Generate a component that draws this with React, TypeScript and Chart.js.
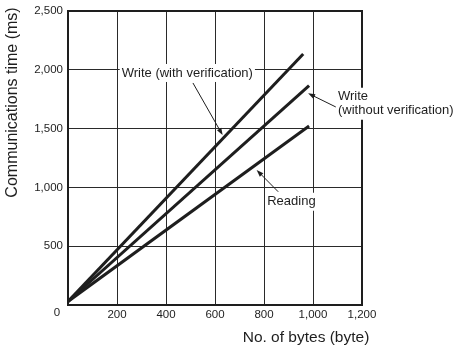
import React, { useEffect, useRef } from "react";
import { Chart, registerables } from "chart.js";

Chart.register(...registerables);

// ---- data ----
const seriesNames = ["Write (with verification)", "Write (without verification)", "Reading"];
const bytesWithVerify = [0, 960];
const timeWithVerify = [30, 2135];
const bytesWithoutVerify = [0, 984];
const timeWithoutVerify = [30, 1865];
const bytesReading = [0, 984];
const timeReading = [30, 1522];

const xTickValues = [0, 200, 400, 600, 800, 1000, 1200];
const yTickValues = [0, 500, 1000, 1500, 2000, 2500];

const xTitle = "No. of bytes (byte)";
const yTitle = "Communications time (ms)";

// annotation labels (data coordinates)
const annotationLines = [["Write (with verification)"], ["Write", "(without verification)"], ["Reading"]];
const annotationAnchorX = [487, 1102, 912];
const annotationAnchorY = [1973, 1771, 878];
const annotationAlign = ["center", "left", "center"];
const arrowFromX = [510, 1093, 858];
const arrowFromY = [1888, 1684, 963];
const arrowToX = [631, 980, 770];
const arrowToY = [1445, 1800, 1148];

const FONT = "'Liberation Sans', Arial, Helvetica, sans-serif";
const INK = "#1e1e1e";

const toPoints = (xs: number[], ys: number[]) => xs.map((x, i) => ({ x, y: ys[i] }));

const fmt = (v: number) => (v === 0 ? "" : v.toLocaleString("en-US"));

const overlayPlugin = {
  id: "overlay",
  afterDraw(chart: any) {
    const ctx = chart.ctx as CanvasRenderingContext2D;
    const { left, right, top, bottom } = chart.chartArea;
    const xs = chart.scales.x;
    const ys = chart.scales.y;
    ctx.save();
    // frame
    ctx.strokeStyle = INK;
    ctx.lineWidth = 2;
    ctx.strokeRect(left, top, right - left, bottom - top);

    // annotations
    ctx.font = `13px ${FONT}`;
    ctx.textBaseline = "middle";
    annotationLines.forEach((lines, i) => {
      const px = xs.getPixelForValue(annotationAnchorX[i]);
      const py = ys.getPixelForValue(annotationAnchorY[i]);
      const lh = 14;
      const widths = lines.map((l) => ctx.measureText(l).width);
      const maxW = Math.max(...widths);
      const bx = annotationAlign[i] === "center" ? px - maxW / 2 : px;
      ctx.fillStyle = "#ffffff";
      ctx.fillRect(bx - 2, py - 9, maxW + 4, lh * (lines.length - 1) + 18);
      ctx.fillStyle = INK;
      ctx.textAlign = annotationAlign[i] as CanvasTextAlign;
      lines.forEach((l, j) => ctx.fillText(l, px, py + j * lh));

      // arrow
      const x1 = xs.getPixelForValue(arrowFromX[i]);
      const y1 = ys.getPixelForValue(arrowFromY[i]);
      const x2 = xs.getPixelForValue(arrowToX[i]);
      const y2 = ys.getPixelForValue(arrowToY[i]);
      const ang = Math.atan2(y2 - y1, x2 - x1);
      const hl = 7;
      const hw = 2.5;
      ctx.strokeStyle = INK;
      ctx.lineWidth = 1;
      ctx.beginPath();
      ctx.moveTo(x1, y1);
      ctx.lineTo(x2 - Math.cos(ang) * hl * 0.8, y2 - Math.sin(ang) * hl * 0.8);
      ctx.stroke();
      ctx.beginPath();
      ctx.moveTo(x2, y2);
      ctx.lineTo(
        x2 - Math.cos(ang) * hl - Math.sin(ang) * hw,
        y2 - Math.sin(ang) * hl + Math.cos(ang) * hw
      );
      ctx.lineTo(
        x2 - Math.cos(ang) * hl + Math.sin(ang) * hw,
        y2 - Math.sin(ang) * hl - Math.cos(ang) * hw
      );
      ctx.closePath();
      ctx.fillStyle = INK;
      ctx.fill();
    });

    // shared zero label
    ctx.font = `11.5px ${FONT}`;
    ctx.textAlign = "center";
    ctx.fillStyle = INK;
    ctx.fillText("0", left - 11, bottom + 8);

    // axis titles
    ctx.font = `15.5px ${FONT}`;
    ctx.textAlign = "center";
    ctx.fillText(xTitle, 306, 338);
    ctx.save();
    ctx.translate(13, 102.5);
    ctx.rotate(-Math.PI / 2);
    ctx.font = `16px ${FONT}`;
    ctx.fillText(yTitle, 0, 0);
    ctx.restore();
    ctx.restore();
  },
};

export default function App() {
  const ref = useRef<HTMLCanvasElement>(null);
  useEffect(() => {
    if (!ref.current) return;
    const lineStyle = {
      borderColor: INK,
      borderWidth: 3,
      pointRadius: 0,
      fill: false,
      tension: 0,
    };
    const chart = new Chart(ref.current, {
      type: "line",
      data: {
        datasets: [
          { label: seriesNames[0], data: toPoints(bytesWithVerify, timeWithVerify), ...lineStyle },
          { label: seriesNames[1], data: toPoints(bytesWithoutVerify, timeWithoutVerify), ...lineStyle },
          { label: seriesNames[2], data: toPoints(bytesReading, timeReading), ...lineStyle },
        ],
      },
      options: {
        responsive: false,
        animation: false,
        devicePixelRatio: 1,
        layout: { padding: { left: 0, right: 100, top: 11, bottom: 0 } },
        plugins: { legend: { display: false }, tooltip: { enabled: false } },
        scales: {
          x: {
            type: "linear",
            min: 0,
            max: 1200,
            afterBuildTicks: (scale: any) => {
              scale.ticks = xTickValues.map((v) => ({ value: v }));
            },
            afterFit: (scale: any) => {
              scale.height = 44;
              scale.paddingLeft = 0;
              scale.paddingRight = 0;
            },
            grid: { color: "#2a2a2a", lineWidth: 1, drawTicks: false },
            border: { display: false },
            ticks: {
              padding: 3,
              maxRotation: 0,
              autoSkip: false,
              color: INK,
              font: { family: FONT, size: 11.5 },
              callback: (v: any) => fmt(Number(v)),
            },
          },
          y: {
            type: "linear",
            min: 0,
            max: 2500,
            afterBuildTicks: (scale: any) => {
              scale.ticks = yTickValues.map((v) => ({ value: v }));
            },
            afterFit: (scale: any) => {
              scale.width = 68;
              scale.paddingTop = 0;
              scale.paddingBottom = 0;
            },
            grid: { color: "#2a2a2a", lineWidth: 1, drawTicks: false },
            border: { display: false },
            ticks: {
              padding: 5,
              autoSkip: false,
              color: INK,
              font: { family: FONT, size: 11.5 },
              callback: (v: any) => fmt(Number(v)),
            },
          },
        },
      },
      plugins: [overlayPlugin],
    } as any);
    return () => chart.destroy();
  }, []);
  return (
    <div style={{ position: "fixed", left: 0, top: 0, width: 462, height: 349, background: "#fff" }}>
      <canvas ref={ref} width={462} height={349} style={{ display: "block", width: 462, height: 349 }} />
    </div>
  );
}
